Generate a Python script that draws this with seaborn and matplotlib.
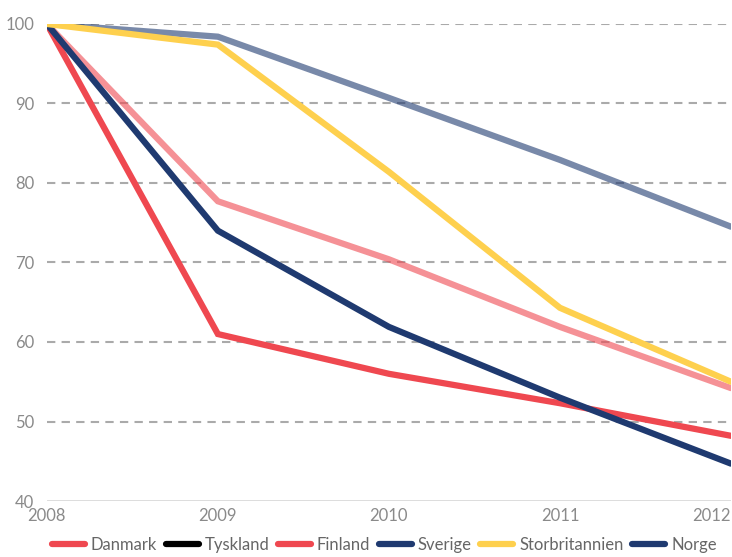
import numpy as np
import pandas as pd
import seaborn as sns
import matplotlib.pyplot as plt
from matplotlib.lines import Line2D

# index values (2008 = 100)
years = [2008, 2009, 2010, 2011, 2012]
danmark = [100, 61.0, 56.0, 52.3, 48.2]
tyskland = [np.nan] * 5          # no data shown in the chart
finland = [100, 77.7, 70.4, 61.9, 54.2]
sverige = [100, 74.0, 61.9, 53.0, 44.7]
storbritannien = [100, 97.4, 81.4, 64.3, 55.0]
norge = [100, 98.4, 90.7, 82.9, 74.5]

countries = ["Danmark", "Tyskland", "Finland", "Sverige", "Storbritannien", "Norge"]
colors = {"Danmark": "#ef4850", "Tyskland": "#000000", "Finland": "#ef4850",
          "Sverige": "#1f3a70", "Storbritannien": "#fed04e", "Norge": "#1f3a70"}
alphas = {"Danmark": 1, "Tyskland": 1, "Finland": 0.6,
          "Sverige": 1, "Storbritannien": 1, "Norge": 0.6}

df = pd.DataFrame({"year": years, "Danmark": danmark, "Tyskland": tyskland,
                   "Finland": finland, "Sverige": sverige,
                   "Storbritannien": storbritannien, "Norge": norge})
df_long = df.melt(id_vars="year", var_name="country", value_name="index")

sns.set_style("white")
plt.rcParams['font.family'] = ['Lato', 'DejaVu Sans']

fig = plt.figure(figsize=(7.32, 5.57), dpi=100)
ax = fig.add_axes([0.064, 0.1005, 0.9346, 0.8565])

# draw order so the overlaps look like the original
draw_order = ["Norge", "Finland", "Danmark", "Sverige", "Storbritannien"]
for c in draw_order:
    sub = df_long[df_long["country"] == c]
    sns.lineplot(data=sub, x="year", y="index", color=colors[c], alpha=alphas[c],
                 linewidth=4.5, legend=False, ax=ax, solid_joinstyle="miter")

ax.set_xlim(2008, 2012)
ax.set_ylim(40, 100)
ax.set_xticks(years)
ax.set_yticks(range(40, 101, 10))
ax.set_xlabel("")
ax.set_ylabel("")

for y in range(50, 101, 10):
    ax.axhline(y, color="#aaaaaa", lw=1.5, ls=(0, (4, 3)), zorder=0)
ax.axhline(40, color="#d9d9d9", lw=2, zorder=0)

for s in ax.spines.values():
    s.set_visible(False)
ax.tick_params(axis="both", length=0, labelsize=12, labelcolor="#8a8a8a")
ax.tick_params(axis="x", pad=5)
ax.tick_params(axis="y", pad=9)
# last year label sits flush with the right edge
ax.get_xticklabels()[-1].set_horizontalalignment("right")

handles = [Line2D([], [], color=colors[c], lw=4.5, solid_capstyle="round") for c in countries]
fig.legend(handles, countries, loc="lower center", bbox_to_anchor=(0.525, -0.02),
           ncol=6, frameon=False, fontsize=12, handlelength=2.0,
           handletextpad=0.35, columnspacing=0.5, labelcolor="#666666")

fig.savefig("out.png", dpi=100)
